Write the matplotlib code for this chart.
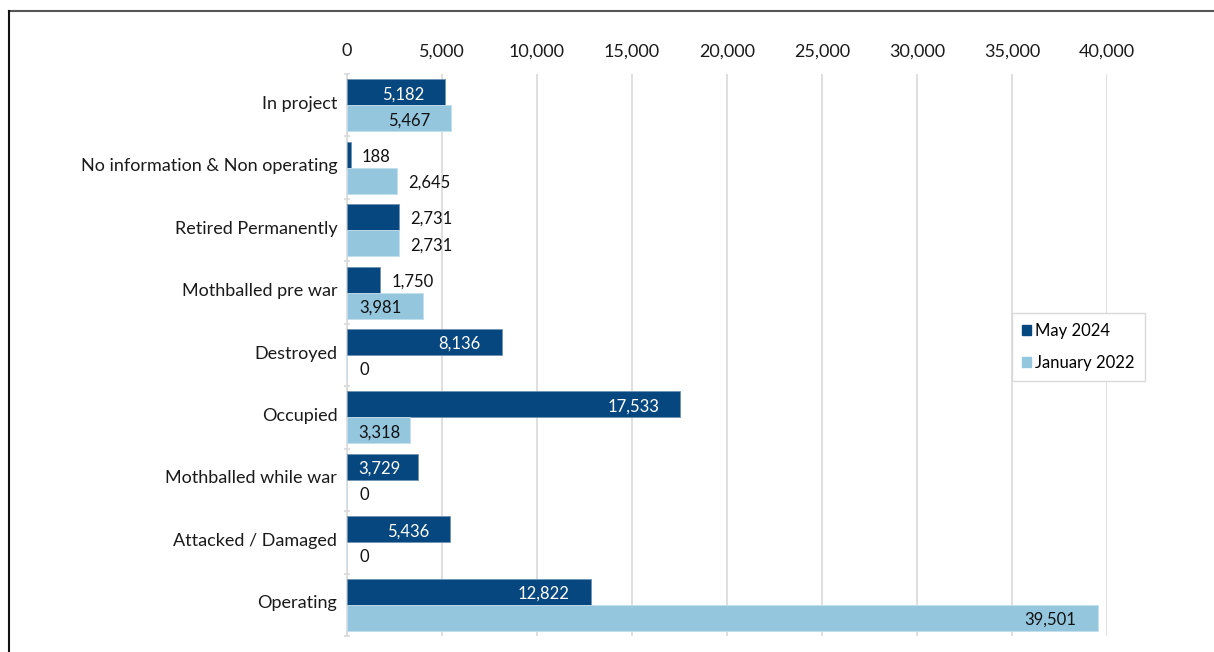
import matplotlib
matplotlib.use("Agg")
import matplotlib.pyplot as plt
from matplotlib.patches import Patch
from matplotlib.lines import Line2D
from matplotlib.transforms import ScaledTranslation
import numpy as np

categories = ["In project", "No information & Non operating", "Retired Permanently",
              "Mothballed pre war", "Destroyed", "Occupied", "Mothballed while war",
              "Attacked / Damaged", "Operating"]
may_2024 = [5182, 188, 2731, 1750, 8136, 17533, 3729, 5436, 12822]
jan_2022 = [5467, 2645, 2731, 3981, 0, 3318, 0, 0, 39501]
series_names = ["May 2024", "January 2022"]
xticks = [0, 5000, 10000, 15000, 20000, 25000, 30000, 35000, 40000]

DARK = "#06477f"
LIGHT = "#94c6de"
GRID = "#d9d9d9"
FONT = "Lato"
FS_CAT = 13
FS_VAL = 12
FS_TICK = 13

plt.rcParams["font.family"] = [FONT, "DejaVu Sans"]

W, H = 1214, 652
fig = plt.figure(figsize=(W / 100, H / 100), dpi=100)
ax = fig.add_axes([347 / W, 1 - 636 / H, 760 / W, 562 / H])

y = np.arange(len(categories))
bh = 0.417
ax.barh(y - bh / 2, may_2024, height=bh, color=DARK, edgecolor="#6f93b5", linewidth=0.6, zorder=3)
ax.barh(y + bh / 2, jan_2022, height=bh, color=LIGHT, edgecolor="#c4dfec", linewidth=0.6, zorder=3)

ax.set_xlim(0, 40000)
ax.set_ylim(len(categories) - 0.5, -0.5)
ax.xaxis.tick_top()
ax.set_xticks(xticks)
ax.set_xticklabels([f"{v:,}" for v in xticks], fontsize=FS_TICK, color="#1a1a1a")
ax.tick_params(axis="x", length=0, pad=10.5)
ax.grid(axis="x", color=GRID, linewidth=1.2, zorder=0)
ax.set_axisbelow(True)

ax.set_yticks(y)
ax.set_yticklabels(categories, fontsize=FS_CAT, color="#1a1a1a")
ax.tick_params(axis="y", length=0, pad=7)
shift = ScaledTranslation(0, 3 / 100, fig.dpi_scale_trans)
for lab in ax.get_yticklabels():
    lab.set_transform(lab.get_transform() + shift)
ax.set_yticks(np.arange(len(categories) + 1) - 0.5, minor=True)
ax.tick_params(axis="y", which="minor", length=4, direction="inout", color=GRID, width=1.2)

for s in ["top", "right", "bottom"]:
    ax.spines[s].set_visible(False)
ax.spines["left"].set_color(GRID)
ax.spines["left"].set_linewidth(1.2)

# data labels
texts = []
for vals, offs, col_in in ((may_2024, -bh / 2, "white"), (jan_2022, bh / 2, "#111111")):
    for i, v in enumerate(vals):
        yy = i + offs
        if v >= 3000:
            t = ax.annotate(f"{v:,}", xy=(v, yy), xytext=(-21, -2), textcoords="offset pixels",
                            ha="right", va="center", fontsize=FS_VAL, color=col_in, zorder=5)
            texts.append(t)
        else:
            ax.annotate(f"{v:,}", xy=(v, yy), xytext=(11 if v > 0 else 13, -2),
                        textcoords="offset pixels", ha="left", va="center",
                        fontsize=FS_VAL, color="#111111", zorder=5)

fig.canvas.draw()
r = fig.canvas.get_renderer()
x0_ax = ax.get_window_extent(r).x0
for t in texts:
    bb = t.get_window_extent(r)
    if bb.x0 < x0_ax + 11:
        t.set_ha("left")
        t.xy = (0, t.xy[1])
        t.set_position((11, -2))

handles = [Patch(facecolor=DARK, edgecolor=DARK), Patch(facecolor=LIGHT, edgecolor=LIGHT)]
leg = fig.legend(handles, series_names, loc="upper left",
                 bbox_to_anchor=(1012 / W, 1 - 313 / H), fontsize=FS_VAL,
                 handlelength=0.55, handleheight=0.55, handletextpad=0.25,
                 labelspacing=0.95, borderpad=0.6, borderaxespad=0, fancybox=False,
                 edgecolor=GRID, framealpha=1)
leg.get_frame().set_linewidth(1.0)

# outer frame
fig.add_artist(Line2D([9 / W, 1], [1 - 11 / H, 1 - 11 / H], color="#555555", linewidth=1.5,
                      transform=fig.transFigure))
fig.add_artist(Line2D([9 / W, 9 / W], [0, 1 - 11 / H], color="#111111", linewidth=1.5,
                      transform=fig.transFigure))

fig.savefig("out.png", dpi=100)
